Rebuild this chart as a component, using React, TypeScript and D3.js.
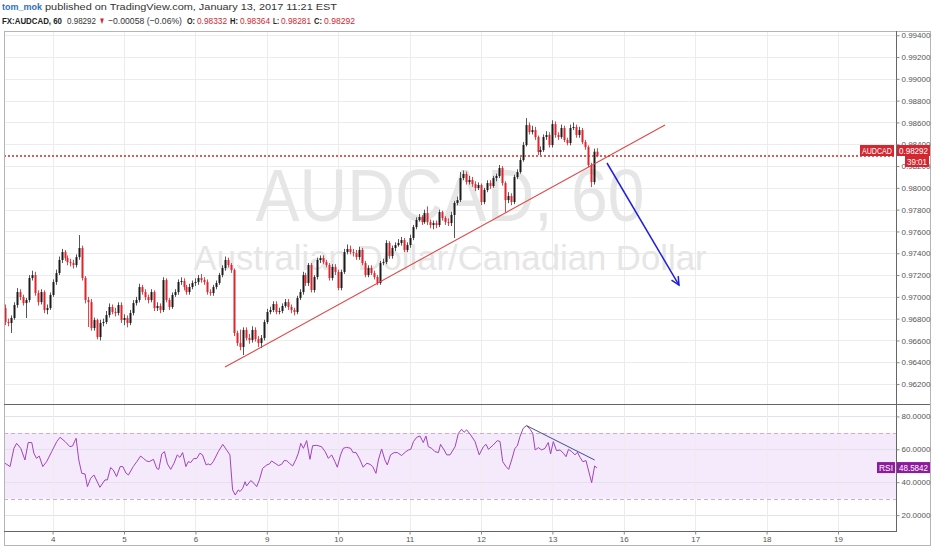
import { useEffect, useRef } from 'react';
import * as d3 from 'd3';

// hourly AUDCAD candles, open = previous close
const firstOpen = 0.96897;

const closes = [
  0.96769, 0.96760, 0.96806, 0.96925, 0.97044, 0.96998, 0.96943, 0.96971, 0.97173, 0.97200,
  0.97035, 0.96952, 0.97044, 0.96879, 0.96897, 0.97017, 0.97136, 0.97218, 0.97338, 0.97411,
  0.97356, 0.97319, 0.97310, 0.97292, 0.97365, 0.97448, 0.97173, 0.96971, 0.96952, 0.96714,
  0.96787, 0.96631, 0.96760, 0.96769, 0.96833, 0.96907, 0.96861, 0.96852, 0.96925, 0.96787,
  0.96806, 0.96760, 0.96852, 0.96943, 0.96971, 0.97090, 0.97044, 0.96998, 0.96971, 0.97044,
  0.96897, 0.96916, 0.96879, 0.97154, 0.96971, 0.96907, 0.97017, 0.97044, 0.97136, 0.97145,
  0.97090, 0.97044, 0.97090, 0.97127, 0.97136, 0.97173, 0.97154, 0.97136, 0.97044, 0.97035,
  0.97090, 0.97127, 0.97200, 0.97264, 0.97338, 0.97292, 0.97246, 0.96668, 0.96576, 0.96540,
  0.96696, 0.96622, 0.96604, 0.96696, 0.96613, 0.96576, 0.96622, 0.96769, 0.96861, 0.96879,
  0.96934, 0.96861, 0.96870, 0.96916, 0.96952, 0.96907, 0.96879, 0.96861, 0.96989, 0.97044,
  0.97200, 0.97127, 0.97292, 0.97063, 0.97182, 0.97338, 0.97356, 0.97319, 0.97292, 0.97173,
  0.97274, 0.97228, 0.97081, 0.97228, 0.97411, 0.97439, 0.97411, 0.97402, 0.97365, 0.97430,
  0.97310, 0.97200, 0.97264, 0.97218, 0.97182, 0.97127, 0.97310, 0.97319, 0.97494, 0.97374,
  0.97448, 0.97475, 0.97494, 0.97521, 0.97430, 0.97475, 0.97540, 0.97640, 0.97705, 0.97732,
  0.97686, 0.97769, 0.97686, 0.97659, 0.97677, 0.97659, 0.97778, 0.97723, 0.97686, 0.97677,
  0.97751, 0.97861, 0.97888, 0.98090, 0.98127, 0.98053, 0.98072, 0.98035, 0.97998, 0.98026,
  0.97870, 0.97980, 0.98044, 0.98017, 0.98090, 0.98108, 0.98182, 0.98044, 0.97888, 0.97925,
  0.97870, 0.98099, 0.98145, 0.98255, 0.98393, 0.98576, 0.98512, 0.98530, 0.98466, 0.98329,
  0.98347, 0.98466, 0.98485, 0.98393, 0.98585, 0.98485, 0.98466, 0.98549, 0.98439, 0.98411,
  0.98549, 0.98558, 0.98485, 0.98530, 0.98420, 0.98374, 0.98209, 0.98053, 0.98332, 0.98292,
];

const highs = [
  0.96930, 0.96800, 0.96830, 0.96950, 0.97080, 0.97070, 0.97020, 0.96990, 0.97200, 0.97240,
  0.97230, 0.97060, 0.97070, 0.97060, 0.96930, 0.97040, 0.97160, 0.97250, 0.97370, 0.97440,
  0.97430, 0.97380, 0.97350, 0.97340, 0.97390, 0.97567, 0.97470, 0.97190, 0.97000, 0.96980,
  0.96810, 0.96800, 0.96790, 0.96800, 0.96870, 0.96940, 0.96930, 0.96900, 0.96950, 0.96950,
  0.96840, 0.96830, 0.96880, 0.96970, 0.97000, 0.97120, 0.97110, 0.97070, 0.97020, 0.97070,
  0.97060, 0.96950, 0.96940, 0.97180, 0.97170, 0.96990, 0.97040, 0.97070, 0.97160, 0.97180,
  0.97170, 0.97110, 0.97120, 0.97150, 0.97170, 0.97200, 0.97210, 0.97180, 0.97160, 0.97070,
  0.97110, 0.97150, 0.97220, 0.97290, 0.97370, 0.97360, 0.97310, 0.97260, 0.96690, 0.96700,
  0.96720, 0.96720, 0.96660, 0.96730, 0.96720, 0.96640, 0.96650, 0.96790, 0.96890, 0.96910,
  0.96960, 0.96960, 0.96900, 0.96940, 0.96980, 0.96980, 0.96930, 0.96900, 0.97010, 0.97070,
  0.97230, 0.97220, 0.97310, 0.97310, 0.97200, 0.97360, 0.97380, 0.97380, 0.97340, 0.97310,
  0.97300, 0.97300, 0.97250, 0.97250, 0.97440, 0.97480, 0.97470, 0.97440, 0.97430, 0.97460,
  0.97450, 0.97330, 0.97290, 0.97290, 0.97240, 0.97200, 0.97330, 0.97350, 0.97520, 0.97510,
  0.97470, 0.97500, 0.97530, 0.97550, 0.97540, 0.97500, 0.97570, 0.97660, 0.97730, 0.97760,
  0.97750, 0.97800, 0.97830, 0.97710, 0.97700, 0.97700, 0.97800, 0.97790, 0.97740, 0.97720,
  0.97780, 0.97880, 0.97920, 0.98145, 0.98160, 0.98150, 0.98110, 0.98100, 0.98060, 0.98050,
  0.98040, 0.98000, 0.98070, 0.98070, 0.98110, 0.98130, 0.98210, 0.98200, 0.98060, 0.97960,
  0.97950, 0.98120, 0.98170, 0.98280, 0.98420, 0.98640, 0.98600, 0.98570, 0.98560, 0.98480,
  0.98380, 0.98490, 0.98520, 0.98510, 0.98620, 0.98610, 0.98510, 0.98580, 0.98570, 0.98460,
  0.98580, 0.98600, 0.98580, 0.98560, 0.98550, 0.98440, 0.98390, 0.98230, 0.98360, 0.98364,
];

const lows = [
  0.96740, 0.96730, 0.96668, 0.96790, 0.96900, 0.96970, 0.96920, 0.96806, 0.96950, 0.97150,
  0.97010, 0.96920, 0.96930, 0.96850, 0.96840, 0.96880, 0.97000, 0.97110, 0.97200, 0.97310,
  0.97330, 0.97290, 0.97280, 0.97260, 0.97270, 0.97340, 0.97150, 0.96940, 0.96723, 0.96690,
  0.96690, 0.96610, 0.96600, 0.96730, 0.96750, 0.96810, 0.96840, 0.96820, 0.96830, 0.96760,
  0.96740, 0.96720, 0.96740, 0.96830, 0.96920, 0.96950, 0.97020, 0.96970, 0.96940, 0.96950,
  0.96870, 0.96870, 0.96850, 0.96860, 0.96950, 0.96880, 0.96890, 0.97000, 0.97020, 0.97110,
  0.97060, 0.97020, 0.97020, 0.97070, 0.97100, 0.97110, 0.97130, 0.97110, 0.97020, 0.97010,
  0.97010, 0.97070, 0.97110, 0.97180, 0.97240, 0.97270, 0.97220, 0.96640, 0.96550, 0.96510,
  0.96466, 0.96600, 0.96570, 0.96580, 0.96590, 0.96540, 0.96530, 0.96600, 0.96750, 0.96840,
  0.96860, 0.96840, 0.96840, 0.96850, 0.96900, 0.96880, 0.96850, 0.96830, 0.96840, 0.96970,
  0.97020, 0.97100, 0.97100, 0.97040, 0.97040, 0.97160, 0.97310, 0.97300, 0.97270, 0.97150,
  0.97150, 0.97200, 0.97060, 0.97060, 0.97210, 0.97390, 0.97390, 0.97370, 0.97340, 0.97340,
  0.97290, 0.97180, 0.97180, 0.97200, 0.97160, 0.97108, 0.97110, 0.97290, 0.97300, 0.97350,
  0.97350, 0.97420, 0.97460, 0.97470, 0.97410, 0.97410, 0.97450, 0.97520, 0.97620, 0.97690,
  0.97660, 0.97670, 0.97660, 0.97630, 0.97620, 0.97630, 0.97640, 0.97700, 0.97660, 0.97650,
  0.97650, 0.97540, 0.97840, 0.97870, 0.98070, 0.98030, 0.98030, 0.98010, 0.97970, 0.97980,
  0.97842, 0.97850, 0.97960, 0.97990, 0.98000, 0.98060, 0.98090, 0.98020, 0.97778, 0.97860,
  0.97840, 0.97850, 0.98080, 0.98130, 0.98240, 0.98380, 0.98490, 0.98490, 0.98440, 0.98300,
  0.98300, 0.98330, 0.98440, 0.98370, 0.98370, 0.98460, 0.98440, 0.98450, 0.98420, 0.98390,
  0.98390, 0.98530, 0.98460, 0.98460, 0.98400, 0.98350, 0.98190, 0.98007, 0.98030, 0.98281,
];

// RSI(14): bar position and value
const rsiAt = [
  0, 1.7, 3.0, 3.9, 5.3, 6.7, 7.8, 9.0, 9.7, 10.6, 11.5, 12.7, 14.0, 15.7, 17.4, 18.5, 20.2, 21.8, 22.7, 23.9,
  24.8, 25.8, 26.9, 27.7, 28.8, 29.9, 31.9, 33.6, 34.4, 35.5, 36.4, 37.5, 38.7, 39.6, 40.7, 41.5, 43.1, 44.3, 45.6, 46.5,
  47.6, 48.5, 49.9, 51.0, 51.7, 52.7, 53.6, 54.6, 55.7, 56.8, 57.9, 58.8, 59.7, 60.8, 61.6, 62.4, 63.5, 64.4, 65.5, 66.4,
  67.6, 68.3, 69.1, 70.0, 71.7, 73.2, 74.5, 75.6, 76.5, 77.4, 78.4, 79.0, 79.9, 80.7, 81.2, 82.6, 83.7, 84.6, 85.5, 86.6,
  88.0, 88.9, 89.6, 90.8, 91.9, 93.0, 93.8, 94.7, 95.6, 96.7, 97.8, 98.6, 99.4, 100.3, 101.4, 102.5, 103.4, 104.8, 106.4, 107.6,
  108.7, 109.8, 110.9, 111.7, 112.8, 113.7, 114.8, 116.2, 116.9, 118.0, 119.1, 120.4, 121.6, 122.7, 123.6, 124.7, 125.5, 126.6, 127.7, 128.5,
  129.6, 130.8, 131.9, 133.3, 134.5, 135.6, 136.4, 137.3, 138.4, 139.5, 140.6, 141.5, 142.3, 143.4, 144.5, 145.7, 146.4, 147.6, 148.5, 149.6,
  151.3, 152.4, 153.5, 154.3, 155.2, 156.3, 158.0, 159.4, 160.8, 161.7, 162.5, 164.1, 165.5, 166.4, 167.3, 168.4, 169.3, 170.3, 171.4, 172.2,
  173.1, 174.2, 175.3, 176.5, 177.4, 178.2, 179.3, 180.4, 181.5, 182.6, 183.4, 184.3, 185.4, 186.6, 187.7, 188.6, 189.4, 190.5, 191.6, 192.4,
  193.3, 194.2, 195.3, 196.1, 197.2, 198.2, 199,
];
const rsiValues = [
  51.5, 49.5, 60.6, 63.6, 60.6, 53.5, 64.1, 64.1, 57.6, 54.5, 55.9, 49.5, 52.5, 58.6, 64.7, 67.3, 64.7, 61.6, 62.0, 66.7,
  53.5, 45.4, 45.0, 37.3, 42.4, 44.4, 36.9, 41.4, 41.4, 48.9, 47.4, 43.4, 49.5, 49.5, 45.4, 44.4, 49.5, 52.5, 55.9, 54.5,
  52.9, 52.5, 53.9, 48.4, 47.8, 57.2, 58.6, 51.1, 47.8, 51.5, 56.6, 55.1, 58.0, 49.5, 52.5, 51.9, 54.5, 54.3, 57.6, 56.6,
  50.5, 51.1, 50.5, 52.5, 58.6, 63.0, 59.6, 56.6, 35.3, 32.2, 35.3, 34.3, 36.3, 40.3, 37.7, 41.0, 39.3, 37.3, 41.4, 48.4,
  50.5, 51.1, 52.9, 51.5, 50.1, 50.9, 53.1, 53.1, 51.5, 49.9, 53.9, 57.6, 63.6, 60.6, 65.3, 53.9, 62.2, 62.4, 61.6, 58.6,
  54.5, 56.6, 52.5, 49.1, 56.6, 60.6, 61.2, 60.6, 58.2, 58.0, 54.5, 49.1, 51.5, 50.9, 49.5, 45.4, 53.5, 60.2, 53.5, 50.5,
  56.6, 58.0, 58.0, 56.2, 58.2, 59.6, 60.0, 64.7, 67.3, 68.1, 64.1, 68.1, 61.6, 60.6, 58.6, 58.0, 63.0, 59.6, 56.6, 56.6,
  61.6, 69.7, 72.2, 70.3, 71.8, 69.3, 64.7, 56.6, 61.6, 63.0, 60.0, 62.6, 65.3, 64.7, 52.5, 49.5, 47.8, 53.5, 60.6, 62.0,
  67.7, 72.8, 74.4, 72.2, 69.7, 59.6, 61.0, 59.6, 60.6, 64.1, 57.2, 64.7, 59.2, 59.6, 57.6, 55.5, 60.0, 58.6, 56.6, 58.2,
  55.1, 52.5, 53.1, 47.4, 39.7, 49.9, 48.5842,
];

// day boundaries (bar index) and their labels
const dayTicks = [16, 40, 64, 88, 112, 136, 160, 184, 208, 232, 256, 280];
const dayLabels = ['4', '5', '6', '9', '10', '11', '12', '13', '16', '17', '18', '19'];

const priceTicks = [0.994, 0.992, 0.99, 0.988, 0.986, 0.984, 0.982, 0.98, 0.978, 0.976, 0.974, 0.972, 0.97, 0.968, 0.966, 0.964, 0.962];
const rsiTicks = [20, 40, 60, 80];

const lastPrice = 0.98292;
const lastRsi = 48.5842;

// header pieces: text, x, width, colour, bold
const headerLine1 = [
  ['tom_mok', 2, 40, '#2f6fc4', true],
  ['published on TradingView.com, January 13, 2017 11:21 EST', 45, 292, '#333', false],
] as const;
const headerLine2 = [
  ['FX:AUDCAD, 60', 2, 60, '#222', true],
  ['0.98292', 67, 29, '#333', false],
  ['▼', 99, 6, '#d22630', false],
  ['−0.00058 (−0.06%)', 108, 74, '#333', false],
  ['O:', 187, 8, '#222', true],
  ['0.98332', 197, 30, '#d22630', false],
  ['H:', 230, 8, '#222', true],
  ['0.98364', 240, 30, '#d22630', false],
  ['L:', 273, 6, '#222', true],
  ['0.98281', 281, 30, '#d22630', false],
  ['C:', 314, 8, '#222', true],
  ['0.98292', 324, 31, '#d22630', false],
] as const;

// drawings: [bar, price]
const trendLine = [[73.95, 0.96356], [221.85, 0.98576]];
const arrowLine = [[202.35, 0.98228], [226.55, 0.97108]];
const rsiTrend = [[175.3, 74.4], [198.2, 53.5]];

const FONT = '"Liberation Sans", Arial, sans-serif';

export default function App() {
  const svgRef = useRef<SVGSVGElement | null>(null);

  useEffect(() => {
    if (!svgRef.current) return;
    const svg = d3.select(svgRef.current);
    svg.selectAll('*').remove();

    const plotL = 4, plotR = 896, mainT = 31, mainB = 404, rsiT = 405, rsiB = 531, axisB = 545, frameR = 930;

    const x = d3.scaleLinear().domain([-0.34, 299.5]).range([plotL, plotR]);
    const yP = d3.scaleLinear().domain([0.96017, 0.99439]).range([mainB, mainT]);
    const yR = d3.scaleLinear().domain([10.33, 86.93]).range([rsiB, rsiT]);

    const red = '#d22630';
    const grid = '#ececec';

    svg.append('rect').attr('width', 932).attr('height', 550).attr('fill', '#fff');

    const defs = svg.append('defs');
    defs.append('clipPath').attr('id', 'clipMain').append('rect')
      .attr('x', plotL).attr('y', mainT).attr('width', plotR - plotL).attr('height', mainB - mainT);
    defs.append('clipPath').attr('id', 'clipRsi').append('rect')
      .attr('x', plotL).attr('y', rsiT).attr('width', plotR - plotL).attr('height', rsiB - rsiT);

    // header
    const head = (items: readonly (readonly [string, number, number, string, boolean])[], y: number) => {
      items.forEach(([t, hx, w, c, b]) => {
        svg.append('text').attr('x', hx).attr('y', y)
          .attr('font-family', FONT).attr('font-size', 9.5)
          .attr('font-weight', b ? 'bold' : 'normal').attr('fill', c)
          .attr('textLength', w).attr('lengthAdjust', 'spacingAndGlyphs').text(t);
      });
    };
    head(headerLine1, 10);
    head(headerLine2, 24);

    // grids
    const gMain = svg.append('g').attr('clip-path', 'url(#clipMain)');
    gMain.selectAll('line.h').data(priceTicks).join('line')
      .attr('x1', plotL).attr('x2', plotR)
      .attr('y1', d => Math.round(yP(d)) + 0.5).attr('y2', d => Math.round(yP(d)) + 0.5)
      .attr('stroke', grid);
    gMain.selectAll('line.v').data(dayTicks).join('line')
      .attr('x1', d => Math.round(x(d)) + 0.5).attr('x2', d => Math.round(x(d)) + 0.5)
      .attr('y1', mainT).attr('y2', mainB).attr('stroke', grid);

    // watermark
    const cx = (plotL + plotR) / 2;
    gMain.append('text').attr('x', cx).attr('y', 221).attr('text-anchor', 'middle')
      .attr('font-family', FONT).attr('font-size', 74).attr('fill', '#e6e6e6')
      .attr('textLength', 389).attr('lengthAdjust', 'spacingAndGlyphs').text('AUDCAD, 60');
    gMain.append('text').attr('x', cx).attr('y', 270).attr('text-anchor', 'middle')
      .attr('font-family', FONT).attr('font-size', 35).attr('fill', '#e6e6e6')
      .attr('textLength', 513).attr('lengthAdjust', 'spacingAndGlyphs').text('Australian Dollar/Canadian Dollar');

    // candles
    const bars = closes.map((c, i) => {
      const o = i === 0 ? firstOpen : closes[i - 1];
      return { i, o, c, h: highs[i], l: lows[i], up: c >= o };
    });
    const cg = gMain.append('g');
    cg.selectAll('line.wick').data(bars).join('line')
      .attr('x1', d => Math.round(x(d.i)) + 0.5).attr('x2', d => Math.round(x(d.i)) + 0.5)
      .attr('y1', d => yP(d.h)).attr('y2', d => yP(d.l))
      .attr('stroke', d => (d.up ? '#555' : '#e0454b')).attr('stroke-width', 1);
    cg.selectAll('rect').data(bars).join('rect')
      .attr('x', d => Math.round(x(d.i)) - 0.5)
      .attr('width', 2)
      .attr('y', d => yP(Math.max(d.o, d.c)))
      .attr('height', d => Math.max(1, yP(Math.min(d.o, d.c)) - yP(Math.max(d.o, d.c))))
      .attr('fill', d => (d.up ? '#1c1c1c' : '#e2232c'));

    // trend line
    gMain.append('line')
      .attr('x1', x(trendLine[0][0])).attr('y1', yP(trendLine[0][1]))
      .attr('x2', x(trendLine[1][0])).attr('y2', yP(trendLine[1][1]))
      .attr('stroke', '#e04848').attr('stroke-width', 1.1);

    // last price line
    gMain.append('line').attr('x1', plotL).attr('x2', plotR)
      .attr('y1', yP(lastPrice)).attr('y2', yP(lastPrice))
      .attr('stroke', '#cc2a2a').attr('stroke-width', 1.5).attr('stroke-dasharray', '2,2');

    // arrow
    const ax1 = x(arrowLine[0][0]), ay1 = yP(arrowLine[0][1]);
    const ax2 = x(arrowLine[1][0]), ay2 = yP(arrowLine[1][1]);
    const ang = Math.atan2(ay2 - ay1, ax2 - ax1);
    const hl = 9, ha = Math.PI / 7;
    gMain.append('line').attr('x1', ax1).attr('y1', ay1).attr('x2', ax2).attr('y2', ay2)
      .attr('stroke', '#1f1fe0').attr('stroke-width', 1.5);
    gMain.append('path')
      .attr('d', `M${ax2 - hl * Math.cos(ang - ha)},${ay2 - hl * Math.sin(ang - ha)}L${ax2},${ay2}L${ax2 - hl * Math.cos(ang + ha)},${ay2 - hl * Math.sin(ang + ha)}`)
      .attr('fill', 'none').attr('stroke', '#1f1fe0').attr('stroke-width', 1.5);

    // RSI pane
    const gR = svg.append('g').attr('clip-path', 'url(#clipRsi)');
    gR.append('rect').attr('x', plotL).attr('width', plotR - plotL)
      .attr('y', yR(70)).attr('height', yR(30) - yR(70)).attr('fill', '#f5e9fc');
    gR.selectAll('line.h').data(rsiTicks).join('line')
      .attr('x1', plotL).attr('x2', plotR)
      .attr('y1', d => Math.round(yR(d)) + 0.5).attr('y2', d => Math.round(yR(d)) + 0.5)
      .attr('stroke', '#e6e0ea');
    gR.selectAll('line.v').data(dayTicks).join('line')
      .attr('x1', d => Math.round(x(d)) + 0.5).attr('x2', d => Math.round(x(d)) + 0.5)
      .attr('y1', rsiT).attr('y2', rsiB).attr('stroke', grid);
    [70, 30].forEach(v => {
      gR.append('line').attr('x1', plotL).attr('x2', plotR)
        .attr('y1', Math.round(yR(v)) + 0.5).attr('y2', Math.round(yR(v)) + 0.5)
        .attr('stroke', '#c4b2cc').attr('stroke-dasharray', '4,3');
    });
    const rsiLine = d3.line<number>().x((_, i) => x(rsiAt[i])).y(d => yR(d));
    gR.append('path').attr('d', rsiLine(rsiValues)).attr('fill', 'none')
      .attr('stroke', '#a044bd').attr('stroke-width', 1);
    gR.append('line')
      .attr('x1', x(rsiTrend[0][0])).attr('y1', yR(rsiTrend[0][1]))
      .attr('x2', x(rsiTrend[1][0])).attr('y2', yR(rsiTrend[1][1]))
      .attr('stroke', '#3f4d91').attr('stroke-width', 1);

    // frame
    const frame = svg.append('g').attr('fill', 'none');
    frame.append('rect').attr('x', plotL + 0.5).attr('y', mainT + 0.5)
      .attr('width', frameR - plotL).attr('height', axisB - mainT).attr('stroke', '#b5b5b5');
    frame.append('line').attr('x1', plotR + 0.5).attr('x2', plotR + 0.5).attr('y1', mainT).attr('y2', rsiB)
      .attr('stroke', '#666');
    frame.append('line').attr('x1', plotL).attr('x2', frameR).attr('y1', mainB + 0.5).attr('y2', mainB + 0.5)
      .attr('stroke', '#666');
    frame.append('line').attr('x1', plotL).attr('x2', plotR + 1).attr('y1', rsiB + 0.5).attr('y2', rsiB + 0.5)
      .attr('stroke', '#666');

    // axes
    const styleAxis = (g: d3.Selection<SVGGElement, unknown, null, undefined>) => {
      g.select('.domain').remove();
      g.selectAll('line').attr('stroke', '#888');
      g.selectAll('text').attr('fill', '#555').attr('font-family', FONT).attr('font-size', 8);
    };
    svg.append('g').attr('transform', `translate(${plotR + 0.5},0)`)
      .call(d3.axisRight(yP).tickValues(priceTicks).tickFormat(d3.format('.5f')).tickSize(3).tickPadding(2))
      .call(styleAxis);
    svg.append('g').attr('transform', `translate(${plotR + 0.5},0)`)
      .call(d3.axisRight(yR).tickValues(rsiTicks).tickFormat(d3.format('.4f')).tickSize(3).tickPadding(2))
      .call(styleAxis);
    svg.append('g').attr('transform', `translate(0,${rsiB + 0.5})`)
      .call(d3.axisBottom(x).tickValues(dayTicks).tickFormat((_, i) => dayLabels[i]).tickSize(3).tickPadding(2))
      .call(styleAxis);

    // price tags
    const tag = (x0: number, yc: number, w: number, fill: string, label: string) => {
      svg.append('rect').attr('x', x0).attr('y', yc - 6).attr('width', w).attr('height', 11).attr('fill', fill);
      svg.append('text').attr('x', x0 + w / 2).attr('y', yc + 3).attr('text-anchor', 'middle')
        .attr('font-family', FONT).attr('font-size', 8.5).attr('fill', '#fff')
        .attr('textLength', w - 4).attr('lengthAdjust', 'spacingAndGlyphs').text(label);
    };
    const py = yP(lastPrice);
    tag(860, py - 5, 34, red, 'AUDCAD');
    tag(897, py - 5, 33, red, d3.format('.5f')(lastPrice));
    tag(905, py + 6, 24, red, '39:01');
    const ry = yR(lastRsi);
    tag(877, ry, 18, '#8e1a9e', 'RSI');
    tag(897, ry, 33, '#8e1a9e', d3.format('.4f')(lastRsi));
  }, []);

  return (
    <svg ref={svgRef} width={932} height={550}
      style={{ position: 'absolute', left: 0, top: 0, display: 'block' }} />
  );
}
